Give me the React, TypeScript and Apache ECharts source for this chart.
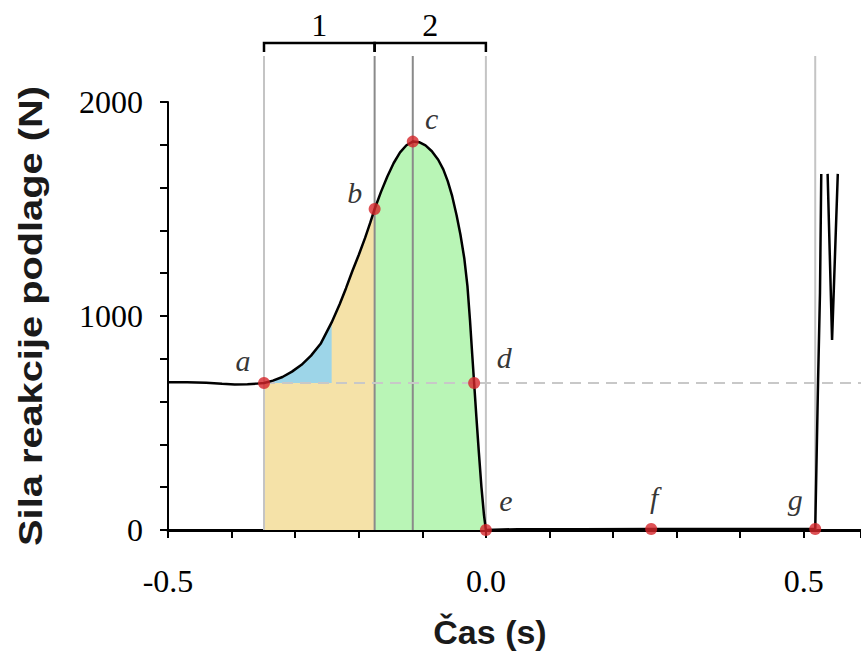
import React, { useEffect, useRef } from "react";
import * as echarts from "echarts";

// ---- data ----
const curveTimes = [
  -0.5, -0.47, -0.44, -0.415, -0.395, -0.375, -0.36, -0.349, -0.335, -0.32,
  -0.305, -0.29, -0.275, -0.26, -0.2426, -0.23, -0.22, -0.21, -0.2, -0.19,
  -0.182, -0.175, -0.165, -0.155, -0.145, -0.135, -0.125, -0.115, -0.105, -0.095,
  -0.085, -0.075, -0.067, -0.06, -0.053, -0.046, -0.04, -0.034, -0.029, -0.025,
  -0.0215, -0.0185, -0.015, -0.011, -0.007, -0.003, 0, 0.05, 0.15, 0.26,
  0.4, 0.518, 0.5225, 0.5255, 0.5275,
];
const curveForces = [
  690, 690, 688, 683, 680, 681, 684, 687, 698, 715,
  740, 772, 815, 870, 970, 1055, 1130, 1210, 1285, 1365,
  1435, 1500, 1580, 1652, 1715, 1765, 1798, 1815, 1812, 1797,
  1770, 1730, 1685, 1630, 1560, 1470, 1380, 1270, 1140, 980,
  820, 687, 530, 360, 200, 70, 0, 4, 4, 5,
  5, 5, 700, 1110, 1664,
];
const jumpTimes = [0.5375, 0.5445, 0.5535];
const jumpForces = [1664, 888, 1664];

const pointNames = ["a", "b", "c", "d", "e", "f", "g"];
const pointTimes = [-0.349, -0.175, -0.115, -0.0185, 0, 0.26, 0.518];
const pointForces = [687, 1500, 1815, 687, 0, 5, 5];

const bodyWeight = 687;
const blueEnd = -0.2426;
const phaseBounds = [-0.349, -0.175, 0];
const phaseLabels = ["1", "2"];
const guideTimes = [-0.349, -0.175, -0.115, 0, 0.518];
const guideKinds = ["light", "dark", "dark", "light", "light"];
const xTickLabels = [-0.5, 0, 0.5];
const yTickLabels = [0, 1000, 2000];

const X_MIN = -0.5;
const X_MAX = 0.59;

// ---- styling ----
const SERIF = "Liberation Serif";
const SANS = "Liberation Sans";
const GUIDE_TOP_F = 2215;
const BRACKET_F = 2276;
const BRACKET_TICK_F = 2234;
const PHASE_LABEL_F = 2360;
const labelOffsets: Record<string, [number, number]> = {
  a: [-21, -22],
  b: [-20, -17],
  c: [19, -23],
  d: [30, -25],
  e: [20, -30],
  f: [3, -31],
  g: [-20, -29],
};

function curveRange(t0: number, t1: number) {
  return curveTimes
    .map((t, i) => [t, curveForces[i]])
    .filter(([t]) => t >= t0 - 1e-9 && t <= t1 + 1e-9);
}

function buildOption() {
  return {
    animation: false,
    backgroundColor: "#ffffff",
    grid: {
      left: 168,
      right: 0,
      top: 102,
      bottom: 126,
      containLabel: false,
      outerBoundsMode: "none",
    },
    xAxis: {
      type: "value",
      min: X_MIN,
      max: X_MAX,
      interval: 0.1,
      axisLine: { onZero: false, lineStyle: { color: "#000", width: 3 } },
      axisTick: { show: true, length: 8, lineStyle: { color: "#000", width: 2 } },
      axisLabel: {
        margin: 35,
        fontFamily: SERIF,
        fontSize: 32,
        color: "#000",
        hideOverlap: false,
        formatter: (v: number) =>
          xTickLabels.some((l) => Math.abs(l - v) < 1e-6) ? v.toFixed(1) : "",
      },
      splitLine: { show: false },
    },
    yAxis: {
      type: "value",
      min: 0,
      max: 2000,
      interval: 200,
      axisLine: { show: true, onZero: false, lineStyle: { color: "#000", width: 2 } },
      axisTick: { show: true, length: 8, lineStyle: { color: "#000", width: 2 } },
      axisLabel: {
        margin: 25,
        fontFamily: SERIF,
        fontSize: 32,
        color: "#000",
        formatter: (v: number) =>
          yTickLabels.some((l) => Math.abs(l - v) < 1e-6) ? String(v) : "",
      },
      splitLine: { show: false },
    },
    graphic: [
      {
        type: "text",
        x: 31,
        y: 316,
        rotation: Math.PI / 2,
        scaleX: 1.17,
        style: {
          text: "Sila reakcije podlage (N)",
          font: `bold 34px ${SANS}`,
          fill: "#1a1a1a",
          align: "center",
          verticalAlign: "middle",
          textAlign: "center",
          textVerticalAlign: "middle",
        },
      },
      {
        type: "text",
        x: 490,
        y: 632,
        style: {
          text: "Čas (s)",
          font: `bold 34px ${SANS}`,
          fill: "#1a1a1a",
          align: "center",
          verticalAlign: "middle",
          textAlign: "center",
          textVerticalAlign: "middle",
        },
      },
    ],
    series: [
      {
        name: "faza1",
        type: "line",
        z: 1,
        data: curveRange(phaseBounds[0], phaseBounds[1]),
        symbol: "none",
        lineStyle: { width: 0 },
        areaStyle: { color: "#f5e2a8", opacity: 1 },
        silent: true,
      },
      {
        name: "presezek",
        type: "line",
        z: 1,
        data: curveRange(phaseBounds[0], blueEnd),
        symbol: "none",
        lineStyle: { width: 0 },
        areaStyle: { color: "#9dd5e8", opacity: 1, origin: bodyWeight },
        silent: true,
      },
      {
        name: "faza2",
        type: "line",
        z: 1,
        data: curveRange(phaseBounds[1], phaseBounds[2]),
        symbol: "none",
        lineStyle: { width: 0 },
        areaStyle: { color: "#b9f5b6", opacity: 1 },
        silent: true,
      },
      {
        name: "vodila",
        type: "custom",
        z: 2,
        silent: true,
        data: guideTimes.map((t) => [t, 0]),
        encode: { x: 0, y: 1 },
        renderItem: (params: any, api: any) => {
          const t = api.value(0);
          const top = api.coord([t, GUIDE_TOP_F]);
          const bot = api.coord([t, 0]);
          return {
            type: "line",
            shape: { x1: top[0], y1: top[1], x2: bot[0], y2: bot[1] },
            style: {
              stroke: guideKinds[params.dataIndex] === "dark" ? "#8a8a8a" : "#c4c4c4",
              lineWidth: 2,
            },
          };
        },
      },
      {
        name: "faze",
        type: "custom",
        z: 2,
        silent: true,
        data: phaseLabels.map((_, i) => [phaseBounds[i], phaseBounds[i + 1], 0]),
        encode: { x: [0, 1], y: 2 },
        renderItem: (params: any, api: any) => {
          const s = api.value(0);
          const e = api.value(1);
          const pS = api.coord([s, BRACKET_F]);
          const pE = api.coord([e, BRACKET_F]);
          const tS = api.coord([s, BRACKET_TICK_F]);
          const tE = api.coord([e, BRACKET_TICK_F]);
          const mid = api.coord([(s + e) / 2, PHASE_LABEL_F]);
          return {
            type: "group",
            children: [
              {
                type: "polyline",
                shape: { points: [tS, pS, pE, tE] },
                style: { stroke: "#000", lineWidth: 2.5, fill: null },
              },
              {
                type: "text",
                x: mid[0],
                y: mid[1],
                style: {
                  text: phaseLabels[params.dataIndex],
                  font: `32px ${SERIF}`,
                  fill: "#000",
                  align: "center",
                  verticalAlign: "middle",
                },
              },
            ],
          };
        },
      },
      {
        name: "teza",
        type: "line",
        z: 3,
        silent: true,
        data: [
          [pointTimes[0], bodyWeight],
          [X_MAX, bodyWeight],
        ],
        symbol: "none",
        lineStyle: { color: "#c8c8c8", width: 2, type: [11, 7] },
      },
      {
        name: "sila",
        type: "line",
        z: 4,
        silent: true,
        data: curveTimes.map((t, i) => [t, curveForces[i]]),
        symbol: "none",
        lineStyle: { color: "#000", width: 2.5 },
      },
      {
        name: "doskok",
        type: "line",
        z: 4,
        silent: true,
        data: jumpTimes.map((t, i) => [t, jumpForces[i]]),
        symbol: "none",
        lineStyle: { color: "#000", width: 2.5 },
      },
      {
        name: "tocke",
        type: "scatter",
        z: 5,
        silent: true,
        symbol: "circle",
        symbolSize: 12,
        itemStyle: { color: "#d6262b" },
        label: {
          show: true,
          position: "inside",
          formatter: "{b}",
          fontFamily: SERIF,
          fontStyle: "italic",
          fontSize: 30,
          color: "#000",
        },
        data: pointNames.map((n, i) => ({
          name: n,
          value: [pointTimes[i], pointForces[i]],
          label: { offset: labelOffsets[n] },
        })),
      },
    ],
  };
}

export default function App() {
  const ref = useRef<HTMLDivElement>(null);
  useEffect(() => {
    if (!ref.current) return;
    const chart = echarts.init(ref.current, undefined, { renderer: "svg" });
    chart.setOption(buildOption() as any);
    return () => chart.dispose();
  }, []);
  return (
    <div
      ref={ref}
      style={{ position: "absolute", left: 0, top: 0, width: 861, height: 656, background: "#fff" }}
    />
  );
}
